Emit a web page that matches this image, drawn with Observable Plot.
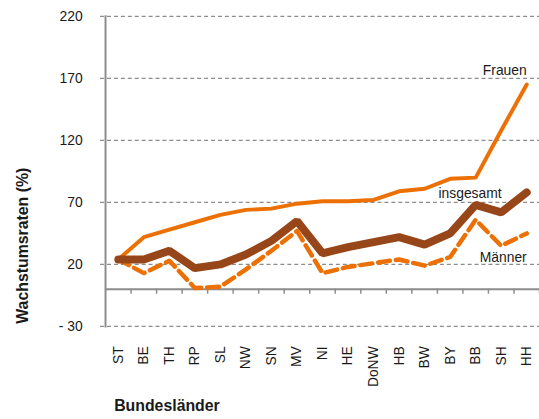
<!DOCTYPE html>
<html>
<head>
<meta charset="utf-8">
<script src="https://cdn.jsdelivr.net/npm/d3@7"></script>
<script src="https://cdn.jsdelivr.net/npm/@observablehq/plot@0.6"></script>
<style>
  html, body { margin: 0; padding: 0; background: #fff; overflow: hidden; }
  #chart { width: 539px; height: 419px; overflow: hidden; }
</style>
</head>
<body>
<div id="chart"></div>
<script>
const categories = ["ST","BE","TH","RP","SL","NW","SN","MV","NI","HE","DoNW","HB","BW","BY","BB","SH","HH"];
const frauen    = [24, 42, 48, 54, 60, 64, 65, 69, 71, 71, 72, 79, 81, 89, 90, 128, 165];
const insgesamt = [24, 24, 31, 17, 20, 28, 39, 55, 29, 34, 38, 42, 36, 45, 68, 62, 78];
const maenner   = [24, 13, 23, 1, 2, 16, 31, 47, 13, 18, 21, 24, 19, 26, 56, 35, 45];
const yTicks = [-30, 20, 70, 120, 170, 220];
const labelsEnd = [
  {text: "Frauen", x: 16, y: 176.5},
  {text: "Männer", x: 16, y: 25.3}
];
const labelsMiddle = [
  {text: "insgesamt", x: 13.78, y: 77.2}
];
const yTitle = "Wachstumsraten (%)";
const xTitle = "Bundesländer";

const idx = categories.map((d, i) => i);
const boundaries = categories.map((d, i) => i + 0.5);

const font = "'Liberation Sans', Arial, sans-serif";
const axisGray = "#8c8c8c";
const textColor = "#1a1a1a";

const chart = Plot.plot({
  width: 544,
  height: 419,
  marginLeft: 106,
  marginRight: 0,
  marginTop: 16,
  marginBottom: 90,
  style: {fontFamily: font, fontSize: "14px", color: textColor, background: "#fff"},
  x: {type: "linear", domain: [-0.5, 16.5]},
  y: {domain: [-30, 220]},
  marks: [
    Plot.ruleY(yTicks, {stroke: axisGray, strokeWidth: 1.2, strokeDasharray: "4,3", insetLeft: -5}),
    Plot.frame({anchor: "left", stroke: axisGray, strokeWidth: 2}),
    Plot.ruleY([0], {stroke: axisGray, strokeWidth: 2}),
    Plot.ruleX(boundaries, {x: d => d, y1: 0, y2: 0, insetBottom: -5, stroke: axisGray, strokeWidth: 1.5}),
    Plot.axisY({ticks: yTicks, tickSize: 0, tickPadding: 23, label: null,
      tickFormat: d => d < 0 ? "- " + Math.abs(d) : String(d), fontSize: 14, fill: textColor}),
    Plot.axisX({ticks: idx, tickSize: 0, tickPadding: 20, tickRotate: -90, label: null,
      tickFormat: i => categories[i], fontSize: 14, fill: textColor}),
    Plot.line(idx, {x: i => i, y: i => frauen[i], stroke: "#EC7004", strokeWidth: 4, strokeLinejoin: "miter"}),
    Plot.line(idx, {x: i => i, y: i => maenner[i], stroke: "#EC7004", strokeWidth: 4.5, strokeDasharray: "12,6"}),
    Plot.line(idx, {x: i => i, y: i => insgesamt[i], stroke: "#974619", strokeWidth: 8, strokeLinejoin: "miter"}),
    Plot.text(labelsEnd, {x: "x", y: "y", text: "text", textAnchor: "end", fontSize: 14, fill: textColor}),
    Plot.text(labelsMiddle, {x: "x", y: "y", text: "text", textAnchor: "middle", fontSize: 14, fill: textColor}),
    Plot.text([yTitle], {frameAnchor: "left", dx: -83, dy: 75, rotate: -90, textAnchor: "middle", lineAnchor: "middle",
      fontWeight: "bold", fontSize: 16, fill: textColor}),
    Plot.text([xTitle], {frameAnchor: "bottom-left", dx: 62, dy: 80, textAnchor: "middle", lineAnchor: "middle",
      fontWeight: "bold", fontSize: 16, fill: textColor})
  ]
});
document.getElementById("chart").appendChild(chart);
</script>
</body>
</html>
